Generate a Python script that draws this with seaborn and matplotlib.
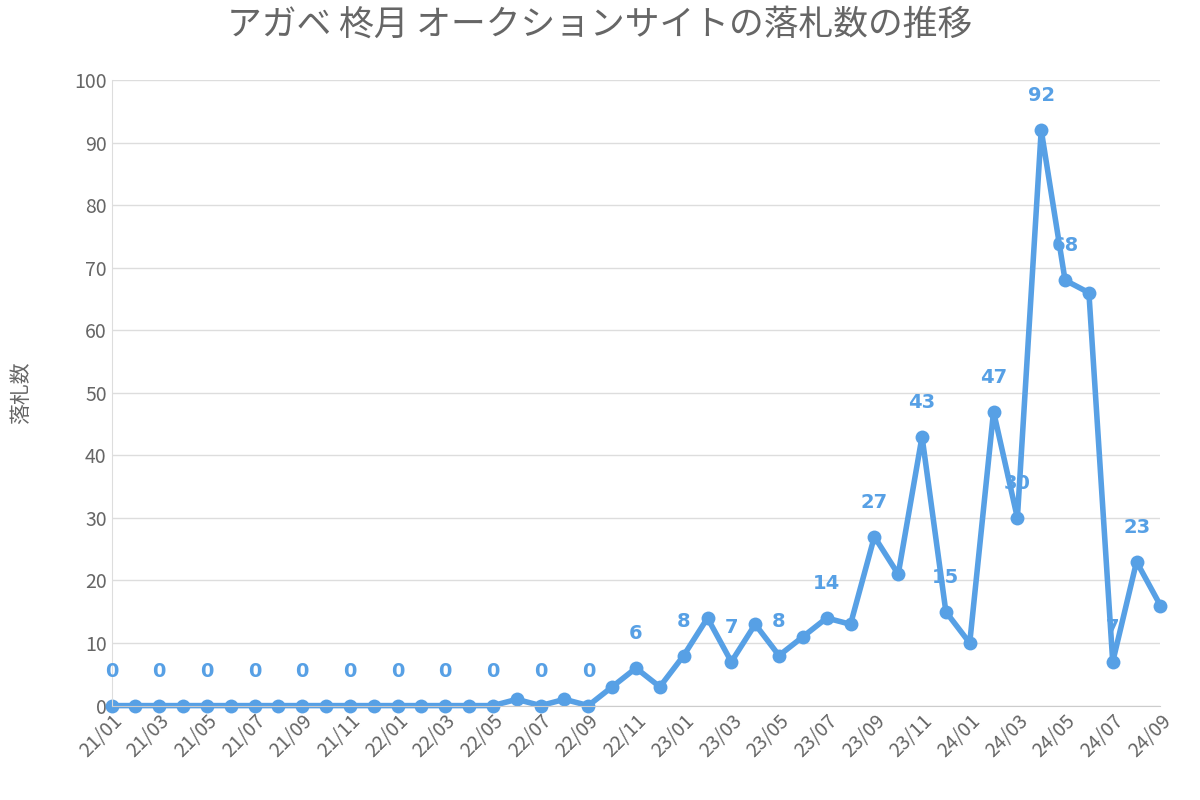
import matplotlib
matplotlib.use("Agg")
import matplotlib.pyplot as plt
import seaborn as sns
import pandas as pd

months = [f"{y:02d}/{m:02d}" for y in (21, 22, 23, 24) for m in range(1, 13)][:45]
values = [0,0,0,0,0,0,0,0,0,0,0,0,
          0,0,0,0,0,1,0,1,0,3,6,3,
          8,14,7,13,8,11,14,13,27,21,43,15,
          10,47,30,92,68,66,7,23,16]
label_idx = [0,2,4,6,8,10,12,14,16,18,20,22,24,26,28,30,32,34,35,37,38,39,40,42,43]

plt.rcParams["font.family"] = ["Noto Sans CJK JP"]
df = pd.DataFrame({"x": range(len(values)), "v": values})
fig, ax = plt.subplots(figsize=(12, 8), dpi=100)
fig.subplots_adjust(left=0.093, right=0.967, top=0.9, bottom=0.118)
c = "#57a0e5"
sns.lineplot(data=df, x="x", y="v", ax=ax, color=c, lw=4, marker="o", markersize=10,
             markeredgewidth=0, clip_on=False)
for i in label_idx:
    ax.annotate(str(values[i]), (i, values[i]), xytext=(0, 18), textcoords="offset points",
                ha="center", va="bottom", color=c, fontsize=14, fontweight="bold",
                fontfamily="DejaVu Sans")
ax.set_ylim(0, 100)
ax.set_xlim(0, len(values) - 1)
ax.set_yticks(range(0, 101, 10))
ax.set_xticks(range(0, len(values), 2))
ax.set_xticklabels(months[::2], rotation=45, ha="right", rotation_mode="anchor")
ax.tick_params(colors="#666666", labelsize=14, length=0)
ax.grid(axis="y", color="#dddddd", lw=1)
ax.set_axisbelow(True)
for s in ("top", "right"):
    ax.spines[s].set_visible(False)
ax.spines["left"].set_color("#dddddd")
ax.spines["bottom"].set_color("#cccccc")
ax.set_xlabel("")
ax.set_ylabel("落札数", color="#666666", fontsize=15, labelpad=30)
fig.suptitle("アガベ 柊月 オークションサイトの落札数の推移", fontsize=25, color="#666666", x=0.5, y=0.99)
fig.savefig("out.png")
